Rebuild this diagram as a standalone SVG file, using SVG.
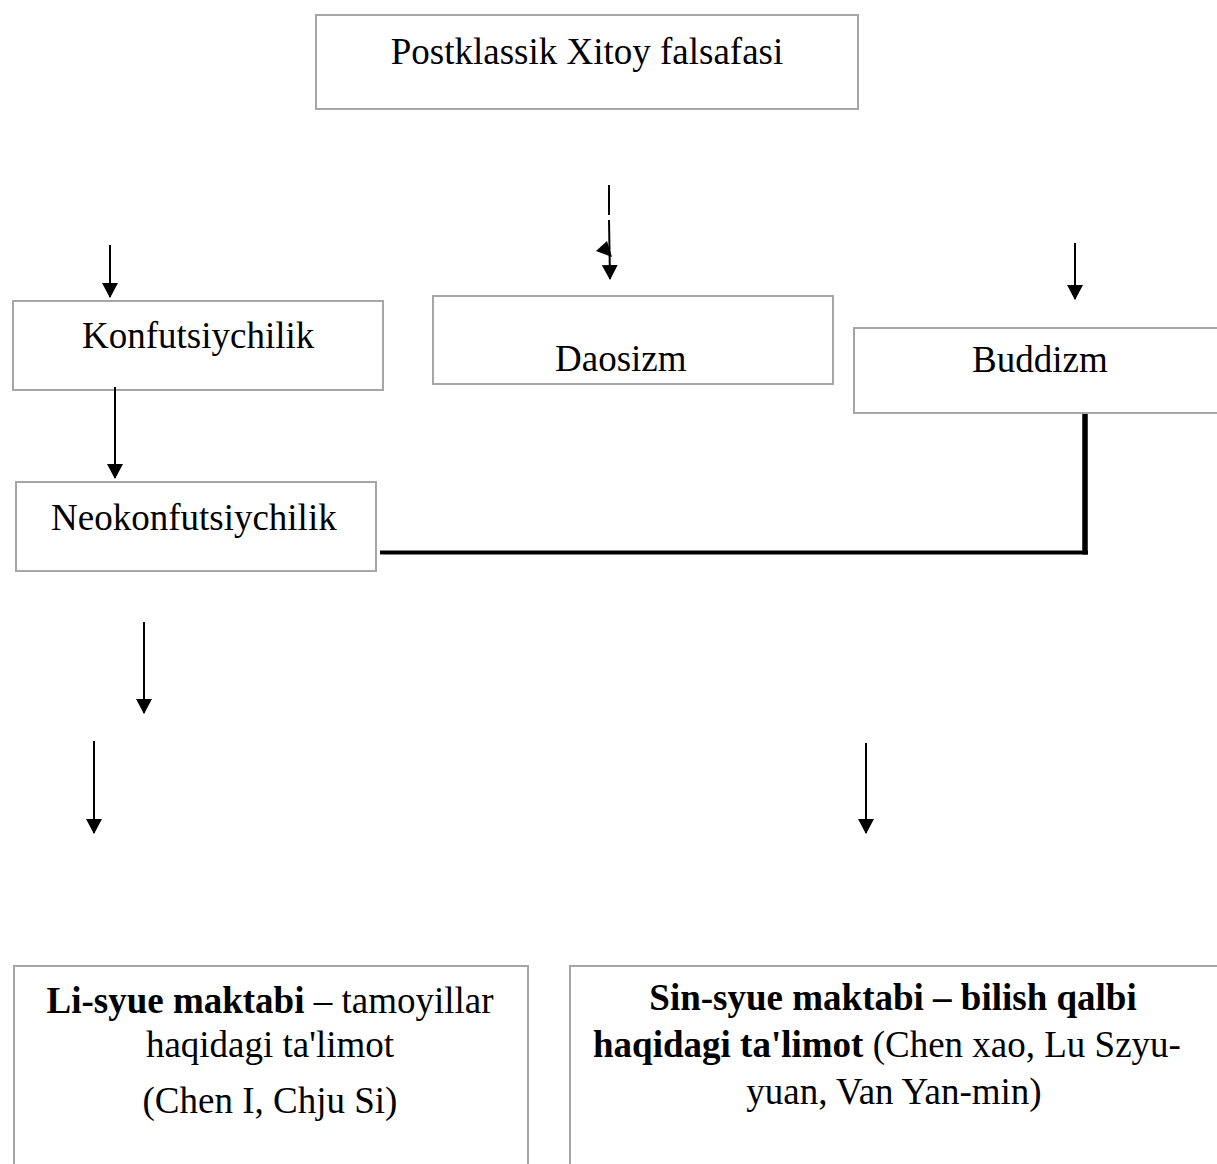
<svg xmlns="http://www.w3.org/2000/svg" width="1217" height="1164" viewBox="0 0 1217 1164">
<style>
.box{fill:#ffffff;stroke:#a6a6a6;stroke-width:2}
.t{font-family:"Liberation Serif","Times New Roman",serif;font-size:37px;fill:#000}
.b{font-weight:bold}
.ln{stroke:#000;stroke-width:2;fill:none}
.ar{stroke:#000;stroke-width:2;fill:none;marker-end:url(#ah)}
</style>
<defs>
<marker id="ah" viewBox="0 0 15 16" refX="14" refY="8" markerWidth="15" markerHeight="16" markerUnits="userSpaceOnUse" orient="auto">
<path d="M0,0 L15,8 L0,16 Z" fill="#000"/>
</marker>
</defs>
<rect width="1217" height="1164" fill="#fff"/>
<g id="n-post">
<rect class="box" x="316" y="15" width="542" height="94"/>
<text class="t" x="587" y="64" text-anchor="middle">Postklassik Xitoy falsafasi</text>
</g>
<g id="n-konf">
<rect class="box" x="13" y="301" width="370" height="89"/>
<text class="t" x="82" y="348">Konfutsiychilik</text>
</g>
<g id="n-dao">
<rect class="box" x="433" y="296" width="400" height="88"/>
<text class="t" x="555" y="371">Daosizm</text>
</g>
<g id="n-budd">
<rect class="box" x="854" y="328" width="370" height="85"/>
<text class="t" x="972" y="372">Buddizm</text>
</g>
<g id="n-neo">
<rect class="box" x="16" y="482" width="360" height="89"/>
<text class="t" x="51" y="530">Neokonfutsiychilik</text>
</g>
<g id="n-li">
<rect class="box" x="14" y="966" width="514" height="210"/>
<text class="t" x="270" y="1013" text-anchor="middle"><tspan class="b">Li-syue maktabi</tspan> – tamoyillar</text>
<text class="t" x="270" y="1057" text-anchor="middle">haqidagi ta'limot</text>
<text class="t" x="270" y="1113" text-anchor="middle">(Chen I, Chju Si)</text>
</g>
<g id="n-sin">
<rect class="box" x="570" y="966" width="660" height="210"/>
<text class="t" x="893" y="1010" text-anchor="middle" font-size="35.5"><tspan class="b">Sin-syue maktabi – bilish qalbi</tspan></text>
<text class="t" x="887" y="1057" text-anchor="middle" font-size="35"><tspan class="b">haqidagi ta'limot</tspan> (Chen xao, Lu Szyu-</text>
<text class="t" x="894" y="1104" text-anchor="middle" font-size="36.5">yuan, Van Yan-min)</text>
</g>
<g id="connectors">
<line class="ar" x1="110" y1="245" x2="110" y2="297"/>
<line class="ln" x1="609" y1="185" x2="609" y2="215"/>
<line class="ar" x1="609" y1="220" x2="610" y2="279"/>
<polygon points="596,251 607,241 612,257" fill="#000"/>
<line class="ar" x1="1075" y1="243" x2="1075" y2="299"/>
<line class="ar" x1="115" y1="387" x2="115" y2="478"/>
<line x1="380" y1="552.5" x2="1088" y2="552.5" stroke="#000" stroke-width="4"/>
<line x1="1085" y1="414" x2="1085" y2="554.5" stroke="#000" stroke-width="5.5"/>
<line class="ar" x1="144" y1="622" x2="144" y2="713"/>
<line class="ar" x1="94" y1="741" x2="94" y2="833"/>
<line class="ar" x1="866" y1="743" x2="866" y2="833"/>
</g>
</svg>
